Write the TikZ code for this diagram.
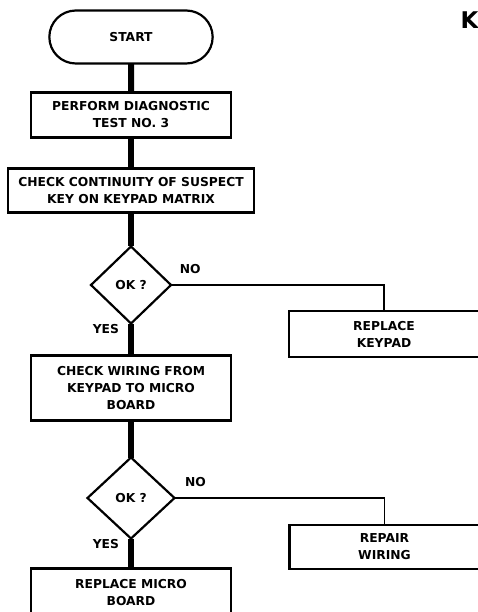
\documentclass[tikz,border=0pt]{standalone}
\usepackage{fontspec}
\setmainfont{DejaVu Sans}
\usetikzlibrary{
  shapes.geometric,
  shapes.misc,
  positioning
}

\begin{document}
\begin{tikzpicture}[
  x=1pt, y=1pt,
  node distance=30pt,
  every node/.style={font=\fontsize{12.3}{17}\selectfont\bfseries},
  box/.style={rectangle, draw, line width=2.2pt, minimum width=200pt,
    minimum height=45pt, align=center, inner sep=2pt, outer sep=0pt},
  term/.style={rounded rectangle, draw, line width=2.2pt, minimum width=170pt,
    minimum height=53pt, outer sep=0pt},
  decision/.style={diamond, draw, line width=2.2pt, minimum width=80pt,
    minimum height=77pt, inner sep=0pt, outer sep=0pt},
  flow/.style={line width=6pt},
  noline/.style={line width=1.8pt},
  lbl/.style={font=\fontsize{12.3}{14}\selectfont\bfseries, inner sep=2pt}
]
  \useasboundingbox (0,0) rectangle (478,-612);
  \clip (0,0) rectangle (478,-612);

  \node[term] (start) at (131,-37) {START};
  \node[box, below=29pt of start] (perform) {PERFORM DIAGNOSTIC\\TEST NO. 3};
  \node[box, minimum width=246pt, minimum height=44pt, below=31pt of perform]
    (continuity) {CHECK CONTINUITY OF SUSPECT\\KEY ON KEYPAD MATRIX};
  \node[decision, below=34pt of continuity] (ok1) {OK ?};
  \node[box, minimum height=65pt, below=32pt of ok1]
    (wiring) {CHECK WIRING FROM\\KEYPAD TO MICRO\\BOARD};
  \node[decision, minimum width=87pt, minimum height=81pt, below=37pt of wiring]
    (ok2) {OK ?};
  \node[box, minimum height=48pt, below=30pt of ok2] (micro) {REPLACE MICRO\\BOARD};
  \node[box, minimum width=190pt, minimum height=46pt,
    below right=26pt and 118pt of ok1.east] (keypad) {REPLACE\\KEYPAD};
  \node[box, minimum width=190pt, minimum height=44pt,
    below right=27pt and 115pt of ok2.east] (repair) {REPAIR\\WIRING};
  \node[font=\fontsize{23}{25}\selectfont\bfseries, anchor=base west]
    (title) at (457,-29) {K};

  \foreach \f/\t in {start/perform, perform/continuity, continuity/ok1,
                      wiring/ok2} {
    \draw[flow] (\f) -- (\t);
  }
  % yes branches
  \draw[flow] (ok1) -- node[lbl, pos=0.18, left=7pt] {YES} (wiring);
  \draw[flow] (ok2) -- node[lbl, pos=0.2, left=7pt] {YES} (micro);
  % no branches
  \draw[noline] (ok1.east) -| node[lbl, pos=0.045, above=8pt] {NO} (keypad.north);
  \draw[noline] (ok2.east) -| node[lbl, pos=0.05, above=8pt] {NO} (repair.north);
\end{tikzpicture}
\end{document}
